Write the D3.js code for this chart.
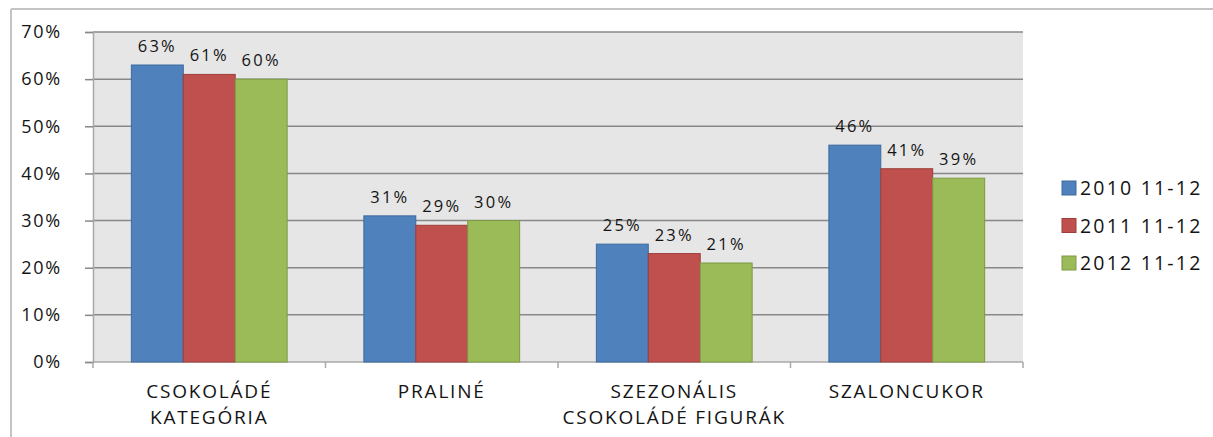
<!DOCTYPE html>
<html>
<head>
<meta charset="utf-8">
<script src="https://cdn.jsdelivr.net/npm/d3@7"></script>
<style>
  html, body { margin: 0; padding: 0; background: #fff; overflow: hidden; }
  svg { display: block; font-family: "Open Sans", sans-serif; }
</style>
</head>
<body>
<svg id="chart" width="1213" height="437"></svg>
<script>
// Categories (two-line labels) and the three seasonal periods
const categories = [
  ["CSOKOLÁDÉ", "KATEGÓRIA"],
  ["PRALINÉ"],
  ["SZEZONÁLIS", "CSOKOLÁDÉ FIGURÁK"],
  ["SZALONCUKOR"]
];
const seriesNames = ["2010 11-12", "2011 11-12", "2012 11-12"];
const series2010 = [63, 31, 25, 46];
const series2011 = [61, 29, 23, 41];
const series2012 = [60, 30, 21, 39];
const yTicks = [0, 10, 20, 30, 40, 50, 60, 70];
const colors = ["#4F81BD", "#C0504D", "#9BBB59"];
const strokes = ["#3d6a9e", "#9e3e3b", "#7d9a45"];

const seriesValues = [series2010, series2011, series2012];
const svg = d3.select("#chart");
const textColor = "#141414";

const plot = { left: 93, top: 32, right: 1023, bottom: 362 };

// outer chart frame: only the top and left edges fall inside the view
svg.append("line")
  .attr("x1", 11).attr("x2", 1213).attr("y1", 9).attr("y2", 9)
  .attr("stroke", "#c4c4c4").attr("stroke-width", 2);
svg.append("line")
  .attr("x1", 11).attr("x2", 11).attr("y1", 9).attr("y2", 437)
  .attr("stroke", "#c4c4c4").attr("stroke-width", 2);

const x0 = d3.scaleBand()
  .domain(d3.range(categories.length))
  .range([plot.left, plot.right])
  .paddingInner(0.33).paddingOuter(0.165);
const x1 = d3.scaleBand()
  .domain(d3.range(seriesNames.length))
  .range([0, x0.bandwidth()]);
const y = d3.scaleLinear().domain([0, 70]).range([plot.bottom, plot.top]);

// plot background
svg.append("rect")
  .attr("x", plot.left).attr("y", plot.top)
  .attr("width", plot.right - plot.left).attr("height", plot.bottom - plot.top)
  .attr("fill", "#e6e6e6");

// gridlines
svg.append("g")
  .selectAll("line")
  .data(yTicks.filter(t => t > 0))
  .join("line")
  .attr("x1", plot.left).attr("x2", plot.right)
  .attr("y1", d => y(d)).attr("y2", d => y(d))
  .attr("stroke", "#888888").attr("stroke-width", 1.5);

// y axis
const yAxis = svg.append("g")
  .attr("transform", `translate(${plot.left},0)`)
  .call(d3.axisLeft(y).tickValues(yTicks).tickFormat(d => d + "%").tickSize(8).tickPadding(23));
yAxis.select(".domain").attr("stroke", "#a8a8a8").attr("stroke-width", 1.5);
yAxis.selectAll(".tick line").attr("stroke", "#888888").attr("stroke-width", 1.5);
yAxis.selectAll(".tick text")
  .attr("font-size", 18).attr("fill", textColor)
  .attr("font-family", "'Open Sans', sans-serif").attr("letter-spacing", 1.8);

// x axis line with category boundary ticks
const boundaries = d3.range(categories.length + 1).map(i => plot.left + i * x0.step());
svg.append("line")
  .attr("x1", plot.left).attr("x2", plot.right)
  .attr("y1", plot.bottom).attr("y2", plot.bottom)
  .attr("stroke", "#a8a8a8").attr("stroke-width", 1.5);
svg.append("g")
  .selectAll("line")
  .data(boundaries)
  .join("line")
  .attr("x1", d => d).attr("x2", d => d)
  .attr("y1", plot.bottom).attr("y2", plot.bottom + 6)
  .attr("stroke", "#a8a8a8").attr("stroke-width", 1.5);

// bars
const groups = svg.append("g")
  .selectAll("g")
  .data(categories.map((c, i) => i))
  .join("g")
  .attr("transform", i => `translate(${x0(i)},0)`);

groups.selectAll("rect")
  .data(i => seriesValues.map((s, k) => ({ k, v: s[i] })))
  .join("rect")
  .attr("x", d => x1(d.k))
  .attr("y", d => y(d.v))
  .attr("width", x1.bandwidth())
  .attr("height", d => plot.bottom - y(d.v))
  .attr("fill", d => colors[d.k])
  .attr("stroke", d => strokes[d.k]).attr("stroke-width", 1);

// value labels
groups.selectAll("text")
  .data(i => seriesValues.map((s, k) => ({ k, v: s[i] })))
  .join("text")
  .attr("x", d => x1(d.k) + x1.bandwidth() / 2)
  .attr("y", d => y(d.v) - 13)
  .attr("text-anchor", "middle")
  .attr("font-size", 16.5).attr("fill", textColor).attr("letter-spacing", 2.2)
  .text(d => d.v + "%");

// category labels
const catLabels = svg.append("g")
  .selectAll("text")
  .data(categories)
  .join("text")
  .attr("x", (d, i) => x0(i) + x0.bandwidth() / 2)
  .attr("y", 398)
  .attr("text-anchor", "middle")
  .attr("font-size", 19).attr("fill", textColor).attr("letter-spacing", 1.8);
catLabels.selectAll("tspan")
  .data(d => d)
  .join("tspan")
  .attr("x", function () { return d3.select(this.parentNode).attr("x"); })
  .attr("dy", (d, j) => j === 0 ? 0 : 26)
  .text(d => d);

// legend
const legend = svg.append("g")
  .selectAll("g")
  .data(seriesNames)
  .join("g")
  .attr("transform", (d, i) => `translate(1062,${181 + i * 37.5})`);
legend.append("rect")
  .attr("width", 14).attr("height", 14)
  .attr("fill", (d, i) => colors[i])
  .attr("stroke", (d, i) => strokes[i]).attr("stroke-width", 1);
legend.append("text")
  .attr("x", 18).attr("y", 14)
  .attr("font-size", 19.5).attr("fill", textColor).attr("letter-spacing", 2.2)
  .text(d => d);
</script>
</body>
</html>
